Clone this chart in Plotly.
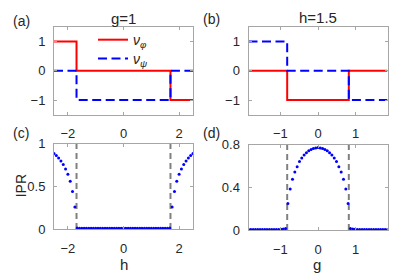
import numpy as np
import plotly.graph_objects as go

# ---------------- data ----------------
# panel (a): winding numbers vs h at g=1
h_steps = [-2.5, -1.69, 1.69, 2.5]
nu_phi_a = [1, 0, -1, -1]
nu_psi_a = [0, -1, 0, 0]
# panel (b): winding numbers vs g at h=1.5
g_steps = [-1.85, -0.82, 0.82, 1.85]
nu_phi_b = [0, -1, 0, 0]
nu_psi_b = [1, 0, -1, -1]

# transition points (dashed grey lines)
h_c = [-1.69, 1.69]
g_c = [-0.82, 0.82]

# panel (c): IPR vs h (61 samples on [-2.5, 2.5])
h_grid = np.linspace(-2.5, 2.5, 61)
ipr_h_left = [0.885, 0.859, 0.830, 0.796, 0.755, 0.703, 0.641, 0.559, 0.440, 0.259]
ipr_h_mid = [0.012, 0.011, 0.011, 0.010, 0.010, 0.010, 0.010, 0.010, 0.010, 0.010,
             0.010, 0.010, 0.010, 0.010, 0.010, 0.010, 0.010, 0.010, 0.010, 0.010,
             0.010, 0.010, 0.010, 0.010, 0.010, 0.010, 0.010, 0.010, 0.010, 0.010,
             0.010, 0.010, 0.010, 0.010, 0.010, 0.010, 0.010, 0.010, 0.011, 0.011,
             0.012]
ipr_h_right = [0.259, 0.440, 0.559, 0.641, 0.703, 0.755, 0.796, 0.830, 0.859, 0.885]
ipr_h = ipr_h_left + ipr_h_mid + ipr_h_right

# panel (d): IPR vs g (61 samples on [-1.85, 1.85])
g_grid = np.linspace(-1.85, 1.85, 61)
ipr_g_left = [0.005, 0.005, 0.005, 0.005, 0.005, 0.005, 0.005, 0.005, 0.005, 0.005,
              0.005, 0.005, 0.005, 0.006, 0.007, 0.009, 0.014]
ipr_g_mid = [0.248, 0.384, 0.475, 0.543, 0.593, 0.641, 0.673, 0.702, 0.723, 0.741,
             0.753, 0.762, 0.768, 0.771, 0.768, 0.762, 0.753, 0.741, 0.723, 0.702,
             0.673, 0.641, 0.593, 0.543, 0.475, 0.384, 0.248]
ipr_g_right = [0.014, 0.009, 0.007, 0.006, 0.005, 0.005, 0.005, 0.005, 0.005, 0.005,
               0.005, 0.005, 0.005, 0.005, 0.005, 0.005, 0.005]
ipr_g = ipr_g_left + ipr_g_mid + ipr_g_right

xticks_a = [-2, 0, 2]
xticks_b = [-1, 0, 1]
yticks_ab = [-1, 0, 1]
yticks_c = [0, 0.5, 1]
yticks_d = [0, 0.4, 0.8]

# ---------------- figure ----------------
W, H = 415, 273
FONT = "Liberation Sans, Arial, Helvetica, sans-serif"
AX = "#a6a6a6"
TXT = "#262626"
RED = "#ff0000"
BLUE = "#0000ff"
GREY = "#808080"

def px_x(a, b):
    return [a / W, b / W]

def px_y(top, bottom):
    return [(H - bottom) / H, (H - top) / H]

fig = go.Figure()

# (a)
fig.add_trace(go.Scatter(x=h_steps, y=nu_phi_a, mode="lines", line_shape="hv",
                         line=dict(color=RED, width=2), name="<i>ν<sub>φ</sub></i>",
                         legend="legend", xaxis="x", yaxis="y"))
fig.add_trace(go.Scatter(x=h_steps, y=nu_psi_a, mode="lines", line_shape="hv",
                         line=dict(color=BLUE, width=2, dash="9px,4.5px"), name="<i>ν<sub>ψ</sub></i>",
                         legend="legend2", xaxis="x", yaxis="y"))
# (b)
fig.add_trace(go.Scatter(x=g_steps, y=nu_phi_b, mode="lines", line_shape="hv",
                         line=dict(color=RED, width=2), showlegend=False,
                         xaxis="x2", yaxis="y2"))
fig.add_trace(go.Scatter(x=g_steps, y=nu_psi_b, mode="lines", line_shape="hv",
                         line=dict(color=BLUE, width=2, dash="9px,4.5px"), showlegend=False,
                         xaxis="x2", yaxis="y2"))
# (c)
for hc in h_c:
    fig.add_trace(go.Scatter(x=[hc, hc], y=[0, 1], mode="lines",
                             line=dict(color=GREY, width=2, dash="6px,4px"), showlegend=False,
                             xaxis="x3", yaxis="y3"))
fig.add_trace(go.Scatter(x=h_grid, y=ipr_h, mode="markers",
                         marker=dict(color=BLUE, size=3, line=dict(width=0)), showlegend=False,
                         xaxis="x3", yaxis="y3"))
# (d)
for gc in g_c:
    fig.add_trace(go.Scatter(x=[gc, gc], y=[0, 0.8], mode="lines",
                             line=dict(color=GREY, width=2, dash="6px,4px"), showlegend=False,
                             xaxis="x4", yaxis="y4"))
fig.add_trace(go.Scatter(x=g_grid, y=ipr_g, mode="markers",
                         marker=dict(color=BLUE, size=3, line=dict(width=0)), showlegend=False,
                         xaxis="x4", yaxis="y4"))

def axis(domain, rng, ticks, anchor, is_x):
    d = dict(domain=domain, range=rng, tickvals=ticks, anchor=anchor,
             showline=True, mirror="ticks", linecolor=AX, linewidth=1,
             ticks="inside", ticklen=3, tickcolor=AX, tickwidth=1,
             showgrid=False, zeroline=False, fixedrange=True,
             tickfont=dict(family=FONT, size=13, color=TXT))
    d["ticklabelstandoff"] = 7 if is_x else 5
    return d

legend_common = dict(xanchor="left", yanchor="middle", bgcolor="rgba(0,0,0,0)", borderwidth=0,
                     font=dict(family=FONT, size=14, color=TXT), itemwidth=30)

fig.update_layout(
    width=W, height=H, margin=dict(l=0, r=0, t=0, b=0),
    paper_bgcolor="white", plot_bgcolor="white",
    font=dict(family=FONT, size=13, color=TXT),
    xaxis=axis(px_x(54, 193), [-2.5, 2.5], xticks_a, "y", True),
    yaxis=axis(px_y(21, 114), [-1.5, 1.5], yticks_ab, "x", False),
    xaxis2=axis(px_x(248.5, 387.5), [-1.85, 1.85], xticks_b, "y2", True),
    yaxis2=axis(px_y(21, 114), [-1.5, 1.5], yticks_ab, "x2", False),
    xaxis3=axis(px_x(54, 193), [-2.5, 2.5], xticks_a, "y3", True),
    yaxis3=axis(px_y(144.5, 235), [0, 1], yticks_c, "x3", False),
    xaxis4=axis(px_x(248.5, 387.5), [-1.85, 1.85], xticks_b, "y4", True),
    yaxis4=axis(px_y(145.5, 236), [0, 0.8], yticks_d, "x4", False),
    showlegend=True,
    legend=dict(x=93 / W, y=1 - 35 / H, **legend_common),
    legend2=dict(x=93 / W, y=1 - 55 / H, **legend_common),
)

ann = [
    ("(a)", 21, 15, 14), ("(b)", 211, 13, 14), ("(c)", 21, 133, 14), ("(d)", 211, 133, 14),
    ("g=1", 123.5, 12, 15), ("h=1.5", 318, 11, 15),
]
for t, x, y, s in ann:
    fig.add_annotation(text=t, x=x / W, y=1 - y / H, xref="paper", yref="paper",
                       xanchor="center", yanchor="middle", showarrow=False,
                       font=dict(family=FONT, size=s, color=TXT))
for t, x in [("h", 123.5), ("g", 317)]:
    fig.add_annotation(text=t, x=x / W, y=0, xref="paper", yref="paper",
                       xanchor="center", yanchor="bottom", yshift=-10, showarrow=False,
                       font=dict(family=FONT, size=15, color=TXT))
fig.add_annotation(text="IPR", x=21 / W, y=1 - 189.75 / H, xref="paper", yref="paper",
                   xanchor="center", yanchor="middle", textangle=-90, showarrow=False,
                   font=dict(family=FONT, size=14, color=TXT))

fig.write_html("out.html", post_script="document.body.style.margin='0';",
               config={"displayModeBar": False})
